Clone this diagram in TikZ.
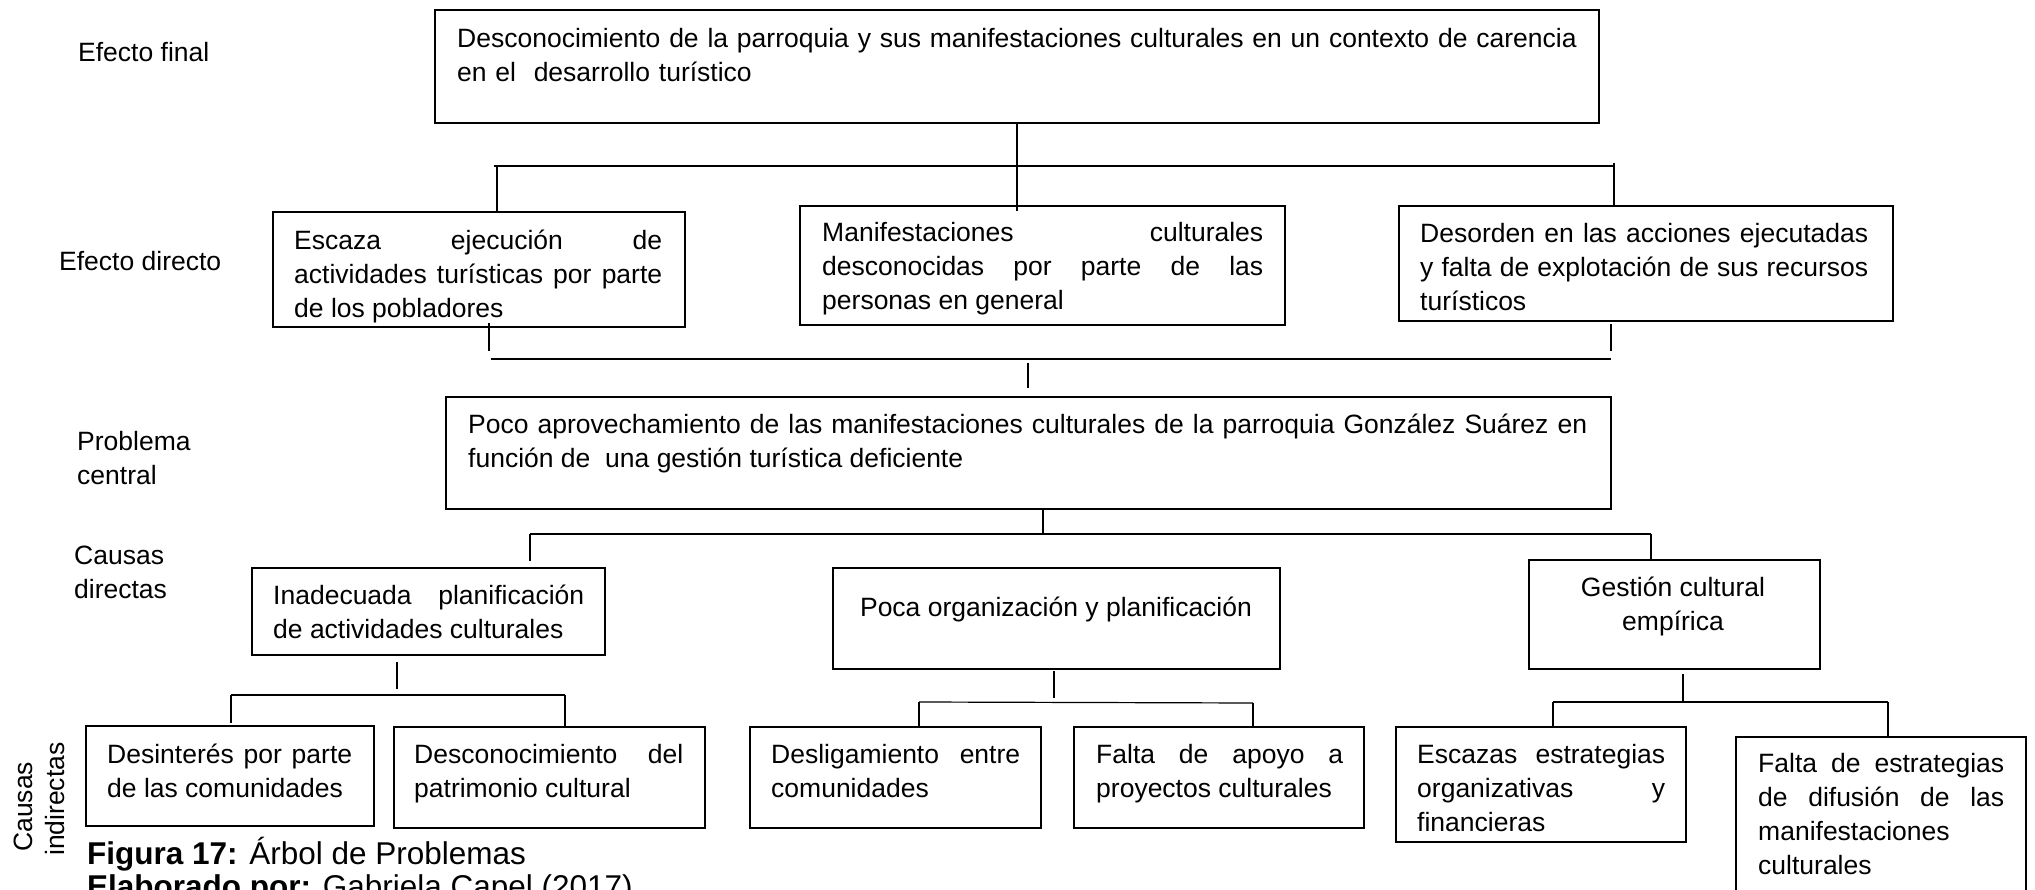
\documentclass[tikz,border=0pt]{standalone}
\usepackage{fontspec}
\setmainfont{Liberation Sans}
\usetikzlibrary{fit}
\newcommand\fs{\fontsize{26.5}{34}\selectfont}
\newcommand\capfs{\fontsize{31.5}{34}\selectfont}
\tikzset{
  box/.style={draw, line width=2.6pt, rectangle, inner sep=0pt},
  txt/.style={inner sep=0pt, anchor=base west, font=\fs, align=justify},
  lbl/.style={inner sep=0pt, anchor=base west, font=\fs, align=left},
  con/.style={line width=1.2pt},
}
\newcommand\bx[5]{%
  \coordinate (#1-a) at (#2,#3);
  \coordinate (#1-b) at (#4,#5);
  \node[box, fit=(#1-a)(#1-b)] (#1) {};}
\begin{document}
\begin{tikzpicture}[x=1pt,y=-1pt]
\useasboundingbox (0,0) rectangle (2035,890);
\clip (0,0) rectangle (2035,890);
\fill[white] (0,0) rectangle (2035,890);

% ---- boxes
\bx{b1}{435}{10}{1599}{123}
\bx{e1}{273}{212}{685}{327}
\bx{e2}{800}{206}{1285}{325}
\bx{e3}{1399}{206}{1893}{321}
\bx{p}{446}{397}{1611}{509}
\bx{c1}{252}{568}{605}{655}
\bx{c2}{833}{568}{1280}{669}
\bx{c3}{1529}{560}{1820}{669}
\bx{i1}{86}{726}{374}{826}
\bx{i2}{394}{727}{705}{828}
\bx{i3}{750}{727}{1041}{828}
\bx{i4}{1074}{727}{1364}{828}
\bx{i5}{1396}{727}{1686}{842}
\bx{i6}{1736}{737}{2026}{910}

% ---- texts
\node[txt, align=left, text width=1140pt] (b1t) at (457,48) {Desconocimiento de la parroquia y sus manifestaciones culturales en un contexto de carencia\\ en el\ \ desarrollo turístico};
\node[txt, text width=368pt] (e1t) at (294,250) {Escaza ejecución de\linebreak actividades turísticas por parte\linebreak de los pobladores};
\node[txt, text width=441pt] (e2t) at (822,242) {Manifestaciones culturales\linebreak desconocidas por parte de las\linebreak personas en general};
\node[txt, text width=448pt] (e3t) at (1420,243) {Desorden en las acciones ejecutadas\linebreak y falta de explotación de sus recursos\linebreak turísticos};
\node[txt, text width=1119pt] (pt) at (468,433) {Poco aprovechamiento de las manifestaciones culturales de la parroquia González Suárez en\linebreak función de\ \ una gestión turística deficiente};
\node[txt, text width=311pt] (c1t) at (273,604) {Inadecuada planificación\linebreak de actividades culturales};
\node[inner sep=0pt, anchor=base, font=\fs] (c2t) at (1056,616) {Poca organización y planificación};
\node[inner sep=0pt, anchor=base, font=\fs, align=center] (c3t) at (1673,630) {Gestión cultural\\empírica};
\node[txt, text width=245pt] (i1t) at (107,763) {Desinterés por parte\linebreak de las comunidades};
\node[txt, text width=269pt] (i2t) at (414,763) {Desconocimiento del\linebreak patrimonio cultural};
\node[txt, text width=249pt] (i3t) at (771,763) {Desligamiento entre\linebreak comunidades};
\node[txt, text width=247pt] (i4t) at (1096,763) {Falta de apoyo a\linebreak proyectos culturales};
\node[txt, text width=248pt] (i5t) at (1417,763) {Escazas estrategias\linebreak organizativas y\linebreak financieras};
\node[txt, text width=246pt] (i6t) at (1758,772) {Falta de estrategias\linebreak de difusión de las\linebreak manifestaciones\linebreak culturales};

% ---- left labels
\node[lbl] (l1) at (78,62) {Efecto final};
\node[lbl] (l2) at (59,271) {Efecto directo};
\node[lbl] (l3) at (77,484) {Problema\\central};
\node[lbl] (l4) at (74,598) {Causas\\directas};
\node[lbl, rotate=90] (l5a) at (32,852) {Causas};
\node[lbl, rotate=90] (l5b) at (64,856) {indirectas};

% ---- caption
\node[inner sep=0pt, anchor=base west, font=\capfs] (cap1) at (87,864) {\textbf{Figura 17:} Árbol de Problemas};
\node[inner sep=0pt, anchor=base west, font=\capfs] (cap2) at (87,897) {\textbf{Elaborado por:} Gabriela Capel (2017)};

% ---- connectors: effects
\coordinate (h1a) at (494,166);
\coordinate (h1b) at (1614,166);
\coordinate (v1) at (497,166);
\coordinate (v2) at (1017,166);
\coordinate (v3) at (1614,163);
\draw[con] (b1.south) -- (b1.south |- h1a);
\draw[con] (h1a) -- (h1b);
\draw[con] (v1) -- (v1 |- e1.north);
\draw[con] (v2) -- ([yshift=-6pt]v2 |- e2.north);
\draw[con] (v3) -- (v3 |- e3.north);

\coordinate (a1) at (489,323);
\coordinate (a1e) at (489,351);
\coordinate (a2) at (1611,324);
\coordinate (a2e) at (1611,351);
\coordinate (h2a) at (491,359);
\coordinate (h2b) at (1611,359);
\coordinate (a3) at (1028,363);
\coordinate (a3e) at (1028,388);
\draw[con] (a1) -- (a1e);
\draw[con] (a2) -- (a2e);
\draw[con] (h2a) -- (h2b);
\draw[con] (a3) -- (a3e);

% ---- connectors: causes
\coordinate (h3a) at (530,534);
\coordinate (h3b) at (1651,534);
\coordinate (v4) at (1043,534);
\draw[con] (v4 |- p.south) -- (v4);
\draw[con] (h3a) -- (h3b);
\draw[con] (h3a) -- ([yshift=6pt]h3a |- c1.north);
\draw[con] (h3b) -- (h3b |- c3.north);

% ---- indirect causes, group 1
\coordinate (g1) at (397,662);
\coordinate (g1e) at (397,689);
\coordinate (h4a) at (231,695);
\coordinate (h4b) at (565,695);
\draw[con] (g1) -- (g1e);
\draw[con] (h4a) -- (h4b);
\draw[con] (h4a) -- ([yshift=2pt]h4a |- i1.north);
\draw[con] (h4b) -- (h4b |- i2.north);

% ---- group 2
\coordinate (g2) at (1054,671);
\coordinate (g2e) at (1054,698);
\coordinate (h5a) at (919,702);
\coordinate (h5b) at (1253,703);
\draw[con] (g2) -- (g2e);
\draw[con] (h5a) -- (h5b);
\draw[con] (h5a) -- (h5a |- i3.north);
\draw[con] (h5b) -- (h5b |- i4.north);

% ---- group 3
\coordinate (g3) at (1683,674);
\coordinate (g3e) at (1683,702);
\coordinate (h6a) at (1553,702);
\coordinate (h6b) at (1888,702);
\draw[con] (g3) -- (g3e);
\draw[con] (h6a) -- (h6b);
\draw[con] (h6a) -- (h6a |- i5.north);
\draw[con] (h6b) -- (h6b |- i6.north);
\end{tikzpicture}
\end{document}
